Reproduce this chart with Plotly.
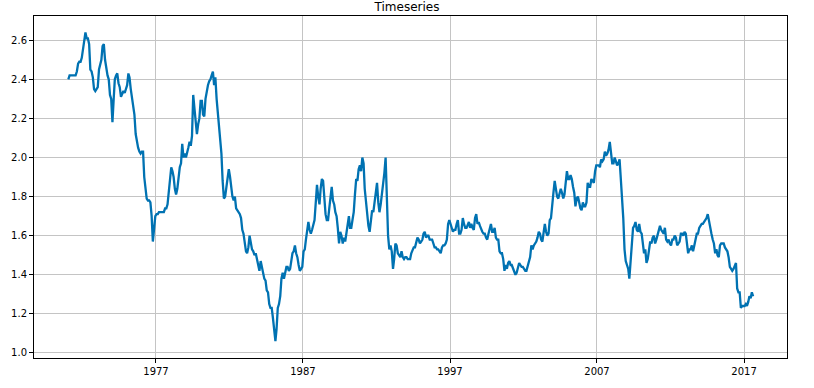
import pandas as pd
import plotly.graph_objects as go

# Monthly GBP/USD level, one row per year (Jan..Dec)
values_1971_1980 = [
    2.40, 2.42, 2.42, 2.42, 2.42, 2.42, 2.42, 2.44, 2.48, 2.49, 2.49, 2.51,
    2.55, 2.60, 2.64, 2.61, 2.61, 2.58, 2.45, 2.44, 2.41, 2.35, 2.34, 2.35,
    2.36, 2.45, 2.48, 2.50, 2.57, 2.58, 2.50, 2.45, 2.42, 2.40, 2.32, 2.30,
    2.18, 2.30, 2.40, 2.42, 2.43, 2.38, 2.36, 2.31, 2.33, 2.34, 2.33, 2.35,
    2.37, 2.43, 2.41, 2.35, 2.30, 2.25, 2.22, 2.12, 2.08, 2.05, 2.03, 2.02,
    2.03, 2.03, 1.90, 1.84, 1.79, 1.78, 1.78, 1.77, 1.70, 1.57, 1.65, 1.70,
    1.71, 1.71, 1.72, 1.72, 1.72, 1.72, 1.72, 1.74, 1.74, 1.76, 1.82, 1.86,
    1.95, 1.93, 1.90, 1.84, 1.81, 1.84, 1.90, 1.95, 1.97, 2.07, 2.00, 2.02,
    2.00, 2.02, 2.05, 2.08, 2.06, 2.11, 2.32, 2.25, 2.17, 2.12, 2.17, 2.20,
    2.29, 2.29, 2.22, 2.21, 2.30, 2.35, 2.37, 2.39, 2.40, 2.42, 2.44, 2.37,
]
values_1981_1990 = [
    2.41, 2.30, 2.24, 2.17, 2.10, 2.02, 1.88, 1.79, 1.80, 1.85, 1.92, 1.94,
    1.90, 1.84, 1.80, 1.78, 1.80, 1.74, 1.73, 1.72, 1.71, 1.69, 1.63, 1.61,
    1.56, 1.52, 1.51, 1.54, 1.60, 1.56, 1.53, 1.52, 1.50, 1.51, 1.48, 1.45,
    1.42, 1.47, 1.44, 1.40, 1.38, 1.37, 1.32, 1.31, 1.25, 1.23, 1.23, 1.18,
    1.12, 1.06, 1.12, 1.23, 1.25, 1.29, 1.38, 1.41, 1.38, 1.42, 1.44, 1.44,
    1.42, 1.43, 1.46, 1.51, 1.52, 1.55, 1.51, 1.49, 1.45, 1.42, 1.43, 1.44,
    1.52, 1.53, 1.58, 1.63, 1.67, 1.63, 1.61, 1.63, 1.65, 1.68, 1.77, 1.86,
    1.80, 1.76, 1.84, 1.89, 1.88, 1.80, 1.71, 1.68, 1.68, 1.74, 1.80, 1.85,
    1.78, 1.76, 1.72, 1.70, 1.64, 1.56, 1.62, 1.60, 1.56, 1.59, 1.57, 1.61,
    1.65, 1.70, 1.64, 1.64, 1.68, 1.72, 1.81, 1.89, 1.88, 1.94, 1.96, 1.93,
]
values_1991_2000 = [
    2.00, 1.97, 1.84, 1.76, 1.73, 1.65, 1.62, 1.68, 1.73, 1.72, 1.78, 1.82,
    1.87, 1.77, 1.72, 1.76, 1.81, 1.87, 1.92, 2.00, 1.76, 1.60, 1.53, 1.55,
    1.52, 1.43, 1.48, 1.56, 1.55, 1.51, 1.50, 1.49, 1.52, 1.49, 1.48, 1.49,
    1.49, 1.48, 1.48, 1.48, 1.51, 1.53, 1.54, 1.54, 1.56, 1.59, 1.58, 1.56,
    1.57, 1.58, 1.61, 1.62, 1.59, 1.60, 1.60, 1.58, 1.58, 1.58, 1.56, 1.54,
    1.54, 1.53, 1.53, 1.52, 1.51, 1.54, 1.55, 1.55, 1.56, 1.58, 1.66, 1.68,
    1.66, 1.63, 1.62, 1.63, 1.63, 1.66, 1.68, 1.61, 1.61, 1.63, 1.69, 1.66,
    1.64, 1.64, 1.66, 1.67, 1.64, 1.66, 1.64, 1.63, 1.69, 1.71, 1.66, 1.67,
    1.65, 1.63, 1.62, 1.61, 1.61, 1.59, 1.58, 1.61, 1.63, 1.66, 1.62, 1.62,
    1.64, 1.59, 1.58, 1.58, 1.52, 1.51, 1.51, 1.48, 1.42, 1.45, 1.43, 1.46,
]
values_2001_2010 = [
    1.47, 1.45, 1.45, 1.43, 1.42, 1.40, 1.41, 1.44, 1.46, 1.45, 1.44, 1.44,
    1.43, 1.42, 1.42, 1.44, 1.46, 1.49, 1.55, 1.53, 1.55, 1.56, 1.57, 1.59,
    1.62, 1.61, 1.58, 1.57, 1.62, 1.66, 1.62, 1.60, 1.61, 1.68, 1.69, 1.74,
    1.82, 1.88, 1.83, 1.80, 1.79, 1.82, 1.84, 1.82, 1.79, 1.81, 1.86, 1.93,
    1.89, 1.89, 1.91, 1.89, 1.85, 1.82, 1.75, 1.79, 1.80, 1.76, 1.74, 1.73,
    1.77, 1.75, 1.75, 1.77, 1.87, 1.85, 1.85, 1.89, 1.88, 1.87, 1.93, 1.96,
    1.96, 1.96, 1.95, 1.99, 1.98, 1.99, 2.03, 2.01, 2.02, 2.04, 2.08, 2.02,
    1.97, 1.97, 2.00, 1.98, 1.96, 1.97, 1.99, 1.89, 1.79, 1.69, 1.53, 1.47,
    1.45, 1.43, 1.38, 1.47, 1.55, 1.64, 1.65, 1.67, 1.63, 1.62, 1.66, 1.62,
    1.61, 1.56, 1.51, 1.53, 1.46, 1.48, 1.52, 1.57, 1.56, 1.59, 1.60, 1.56,
]
values_2011_2017 = [
    1.58, 1.61, 1.62, 1.65, 1.63, 1.62, 1.61, 1.64, 1.58, 1.57, 1.58, 1.56,
    1.55, 1.58, 1.58, 1.60, 1.59, 1.55, 1.56, 1.57, 1.61, 1.61, 1.60, 1.62,
    1.61, 1.55, 1.51, 1.53, 1.53, 1.55, 1.52, 1.55, 1.59, 1.61, 1.61, 1.64,
    1.65, 1.66, 1.66, 1.67, 1.68, 1.69, 1.71, 1.67, 1.63, 1.61, 1.58, 1.56,
    1.51, 1.53, 1.50, 1.49, 1.55, 1.56, 1.56, 1.56, 1.54, 1.53, 1.52, 1.49,
    1.44, 1.43, 1.42, 1.43, 1.45, 1.46, 1.33, 1.31, 1.31, 1.23, 1.24, 1.24,
    1.24, 1.25, 1.24, 1.26, 1.29, 1.28, 1.31, 1.29,
]

tick_years = [1977, 1987, 1997, 2007, 2017]
y_ticks = [1.0, 1.2, 1.4, 1.6, 1.8, 2.0, 2.2, 2.4, 2.6]

values = (values_1971_1980 + values_1981_1990 + values_1991_2000
          + values_2001_2010 + values_2011_2017)
dates = pd.date_range("1971-01-01", periods=len(values), freq="MS") + pd.Timedelta(days=14)

x_start = pd.Timestamp("1977-01-01") - pd.Timedelta(days=3031)
x_end = pd.Timestamp("2017-01-01") + pd.Timedelta(days=1068)

fig = go.Figure()
fig.add_trace(go.Scatter(
    x=dates, y=values, mode="lines",
    line=dict(color="#0072B2", width=2.3),
    showlegend=False,
))

axis_common = dict(
    automargin=False,
    showline=True, mirror=True, linecolor="#000000", linewidth=1,
    showgrid=True, gridcolor="#c4c4c4", gridwidth=1,
    ticks="outside", ticklen=4, tickcolor="#000000", tickwidth=1,
    zeroline=False,
    tickfont=dict(family="DejaVu Sans", size=10, color="#000000"),
)

fig.update_layout(
    width=814, height=388,
    margin=dict(l=34, r=27, t=16, b=30),
    paper_bgcolor="white", plot_bgcolor="white",
    title=dict(text="Timeseries", x=0.5, xanchor="center",
               y=1 - 7 / 388, yanchor="middle", yref="container",
               font=dict(family="DejaVu Sans", size=12, color="#000000")),
    xaxis=dict(range=[x_start, x_end],
               tickvals=[pd.Timestamp(f"{y}-01-01") for y in tick_years],
               ticktext=[str(y) for y in tick_years], **axis_common),
    yaxis=dict(range=[0.974, 2.724], tickvals=y_ticks,
               ticktext=[f"{v:.1f}" for v in y_ticks], **axis_common),
)

fig.write_html("out.html", config={"displayModeBar": False},
               post_script="document.body.style.margin='0px';document.body.style.overflow='hidden';")
